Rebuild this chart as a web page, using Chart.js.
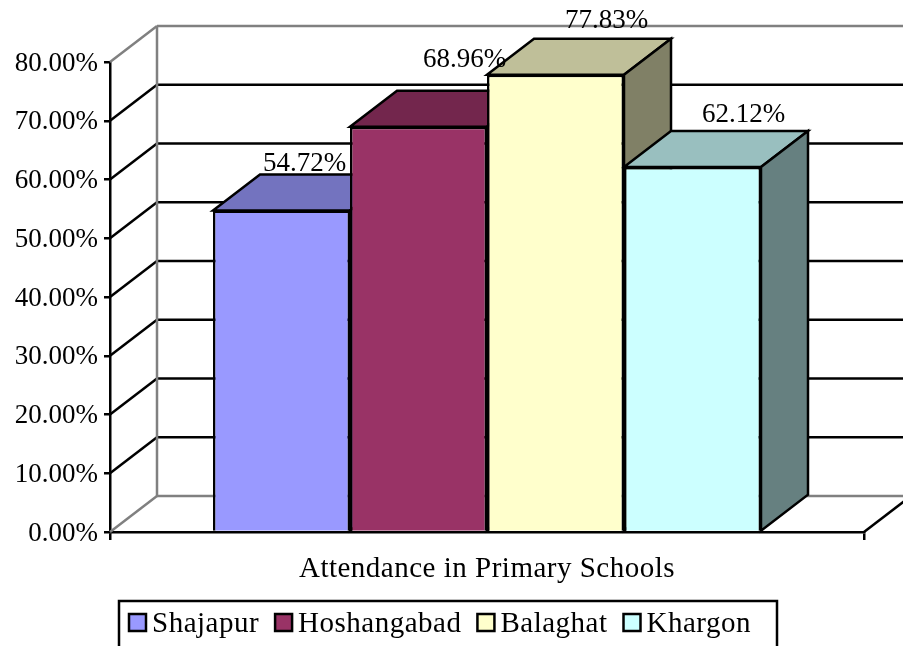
<!DOCTYPE html>
<html>
<head>
<meta charset="utf-8">
<style>
  html, body { margin: 0; padding: 0; background: #fff; overflow: hidden; }
  canvas { display: block; }
</style>
<script src="https://cdn.jsdelivr.net/npm/chart.js@4/dist/chart.umd.min.js"></script>
</head>
<body>
<canvas id="chart1" width="903" height="646"></canvas>
<script>
const categories = ["Attendance in Primary Schools"];
const districts = ["Shajapur", "Hoshangabad", "Balaghat", "Khargon"];
const attendance = [54.72, 68.96, 77.83, 62.12];

const frontColors = ["#9999FF", "#993366", "#FFFFCC", "#CCFFFF"];
const topColors = ["#7373BF", "#73264D", "#BFBF99", "#99BFBF"];
const sideColors = ["#666699", "#4D1933", "#808066", "#668080"];
// where each value label sits, measured from the top middle of its bar
const labelOffsets = [[23, -47], [46, -67], [51, -54], [51, -52]];

const FONT = "'Liberation Serif', serif";
const DX = 47, DY = 36; // depth of the 3d box
const LINE = 2.5;

let line = (ctx, x1, y1, x2, y2, color) => {
  ctx.strokeStyle = color;
  ctx.beginPath();
  ctx.moveTo(x1, y1);
  ctx.lineTo(x2, y2);
  ctx.stroke();
};

let face = (ctx, pts, color) => {
  ctx.fillStyle = color;
  ctx.beginPath();
  pts.forEach((p, i) => i ? ctx.lineTo(p[0], p[1]) : ctx.moveTo(p[0], p[1]));
  ctx.closePath();
  ctx.fill();
  ctx.stroke();
};

// liberation is narrower than the original font, so the axis text gets some help
let tweakLabels = (chart, id, spacing, shiftY) => {
  const s = chart.scales[id];
  if (s.tweaked) return;
  s.tweaked = true;
  const draw = s.drawLabels;
  s.drawLabels = function (area) {
    const ctx = chart.ctx;
    ctx.save();
    ctx.letterSpacing = spacing;
    ctx.translate(0, shiftY);
    draw.call(this, area);
    ctx.restore();
  };
};

const box3d = {
  id: "box3d",
  beforeDraw(chart) {
    tweakLabels(chart, "x", "0.5px", 0);
    tweakLabels(chart, "y", "0px", 1.5);
  },
  beforeDatasetsDraw(chart) {
    const ctx = chart.ctx, y = chart.scales.y, a = chart.chartArea;
    ctx.save();
    ctx.lineWidth = LINE;
    ctx.lineJoin = "miter";

    // walls and floor
    y.ticks.forEach((t) => {
      const py = y.getPixelForValue(t.value);
      const edge = t.value === y.min || t.value === y.max;
      const c = edge ? "#808080" : "#000";
      line(ctx, a.left, py, a.left + DX, py - DY, c);
      line(ctx, a.left + DX, py - DY, a.right + DX, py - DY, c);
    });
    line(ctx, a.left + DX, y.getPixelForValue(y.min) - DY, a.left + DX, y.getPixelForValue(y.max) - DY, "#808080");
    line(ctx, a.right, a.bottom, a.right + DX, a.bottom - DY, "#000");

    // top and side of every bar, left to right, the fronts go over them
    attendance.forEach((v, i) => {
      const bar = chart.getDatasetMeta(i).data[0];
      const l = bar.x - bar.width / 2, r = bar.x + bar.width / 2;
      ctx.strokeStyle = "#000";
      face(ctx, [[l, bar.y], [l + DX, bar.y - DY], [r + DX, bar.y - DY], [r, bar.y]], topColors[i]);
      face(ctx, [[r, bar.y], [r + DX, bar.y - DY], [r + DX, bar.base - DY], [r, bar.base]], sideColors[i]);
    });
    ctx.restore();
  },
  afterDatasetsDraw(chart) {
    const ctx = chart.ctx;
    ctx.save();
    ctx.font = "27px " + FONT;
    ctx.fillStyle = "#000";
    ctx.textAlign = "center";
    ctx.textBaseline = "middle";
    attendance.forEach((v, i) => {
      const bar = chart.getDatasetMeta(i).data[0];
      ctx.fillText(v.toFixed(2) + "%", bar.x + labelOffsets[i][0], bar.y + labelOffsets[i][1]);
    });
    ctx.restore();
  },
  afterDraw(chart) {
    // legend box, runs off the bottom of the picture like the original
    const ctx = chart.ctx;
    ctx.save();
    ctx.lineWidth = LINE;
    ctx.strokeStyle = "#000";
    ctx.strokeRect(119, 601, 658, 60);
    ctx.font = "29px " + FONT;
    ctx.letterSpacing = "0.5px";
    ctx.textBaseline = "middle";
    let x = 129;
    districts.forEach((name, i) => {
      ctx.fillStyle = frontColors[i];
      ctx.fillRect(x, 614, 17, 17);
      ctx.strokeRect(x, 614, 17, 17);
      ctx.fillStyle = "#000";
      ctx.fillText(name, x + 23, 624);
      x += 23 + ctx.measureText(name).width + 16;
    });
    ctx.restore();
  },
};

const chart = new Chart(document.getElementById("chart1"), {
  type: "bar",
  data: {
    labels: categories,
    datasets: districts.map((name, i) => ({
      label: name,
      data: [attendance[i]],
      backgroundColor: frontColors[i],
      borderColor: "#000",
      borderWidth: LINE,
    })),
  },
  options: {
    responsive: false,
    animation: false,
    layout: { padding: { top: 62, right: 39, left: 0, bottom: 0 } },
    datasets: { bar: { categoryPercentage: 548 / 754, barPercentage: 1 } },
    plugins: { legend: { display: false }, tooltip: { enabled: false } },
    scales: {
      x: {
        afterFit: (s) => { s.height = 114; },
        border: { color: "#000", width: LINE },
        grid: { drawOnChartArea: false, color: "#000", lineWidth: LINE, tickLength: 8 },
        ticks: { color: "#000", padding: 12, font: { family: FONT, size: 29 }, maxRotation: 0 },
      },
      y: {
        min: 0,
        max: 80,
        afterFit: (s) => { s.width = 110; },
        border: { color: "#000", width: LINE },
        grid: { drawOnChartArea: false, color: "#000", lineWidth: LINE, tickLength: 6 },
        ticks: {
          stepSize: 10,
          color: "#000",
          padding: 6,
          font: { family: FONT, size: 27 },
          callback: (v) => v.toFixed(2) + "%",
        },
      },
    },
  },
  plugins: [box3d],
});
chart.draw();
</script>
</body>
</html>
